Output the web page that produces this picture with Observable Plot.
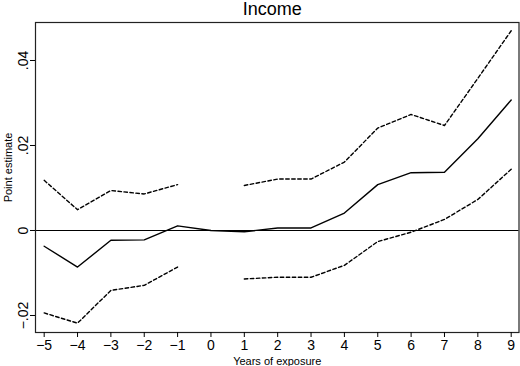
<!DOCTYPE html>
<html>
<head>
<meta charset="utf-8">
<script src="https://cdn.jsdelivr.net/npm/d3@7"></script>
<script src="https://cdn.jsdelivr.net/npm/@observablehq/plot@0.6"></script>
<style>
  html, body { margin: 0; padding: 0; background: #fff; }
  #chart svg { display: block; }
</style>
</head>
<body>
<div id="chart"></div>
<script>
const years = [-5, -4, -3, -2, -1, 0, 1, 2, 3, 4, 5, 6, 7, 8, 9];
const estimate = [-0.0037, -0.0086, -0.0023, -0.0022, 0.0011, 0, -0.0003, 0.0006, 0.0006, 0.0041, 0.0108, 0.0136, 0.0137, 0.0216, 0.0307];
const upper = [0.0118, 0.0049, 0.0094, 0.0086, 0.0108, null, 0.0106, 0.0121, 0.0121, 0.0161, 0.0241, 0.0273, 0.0247, 0.0358, 0.0470];
const lower = [-0.0194, -0.0218, -0.0141, -0.0129, -0.0086, null, -0.0114, -0.0110, -0.0110, -0.0082, -0.0026, -0.0004, 0.0026, 0.0073, 0.0144];
const yTicks = [-0.02, 0, 0.02, 0.04];
const yTickLabels = ["\u2212.02", "0", ".02", ".04"];
const xTickLabels = years.map(d => d < 0 ? "\u2212" + Math.abs(d) : String(d));
const title = "Income";
const xTitle = "Years of exposure";
const yTitle = "Point estimate";

const rows = years.map((x, i) => ({x, est: estimate[i], up: upper[i], lo: lower[i]}));

const chart = Plot.plot({
  width: 520,
  height: 366,
  marginLeft: 35,
  marginRight: 1.5,
  marginTop: 22,
  marginBottom: 34,
  style: {fontFamily: "'Liberation Sans', Arial, Helvetica, sans-serif", background: "#fff", color: "#000"},
  x: {domain: [-5.26, 9.234]},
  y: {domain: [-0.024, 0.04894]},
  marks: [
    Plot.ruleY([0], {stroke: "#000", strokeWidth: 1.2}),
    Plot.line(rows, {x: "x", y: "up", stroke: "#000", strokeWidth: 1.4, strokeDasharray: "3.5,2.5"}),
    Plot.line(rows, {x: "x", y: "lo", stroke: "#000", strokeWidth: 1.4, strokeDasharray: "3.5,2.5"}),
    Plot.line(rows, {x: "x", y: "est", stroke: "#000", strokeWidth: 1.4}),
    Plot.frame({stroke: "#222", strokeWidth: 1.2}),
    Plot.axisX({ticks: years, tickFormat: d => xTickLabels[years.indexOf(d)], tickSize: 5, tickPadding: 3, fontSize: 14, label: null, stroke: "#000"}),
    Plot.axisY({ticks: yTicks, tickFormat: d => yTickLabels[yTicks.indexOf(d)], tickSize: 5, tickPadding: 3, tickRotate: -90, fontSize: 14, label: null, stroke: "#000"}),
    Plot.text([title], {frameAnchor: "top", text: d => d, dy: -8, dx: -5, lineAnchor: "bottom", fontSize: 18}),
    Plot.text([xTitle], {frameAnchor: "bottom", text: d => d, dy: 29, lineAnchor: "middle", fontSize: 11}),
    Plot.text([yTitle], {frameAnchor: "left", text: d => d, dx: -27, dy: -10, rotate: -90, textAnchor: "middle", lineAnchor: "middle", fontSize: 11})
  ]
});
document.getElementById("chart").appendChild(chart);
</script>
</body>
</html>
